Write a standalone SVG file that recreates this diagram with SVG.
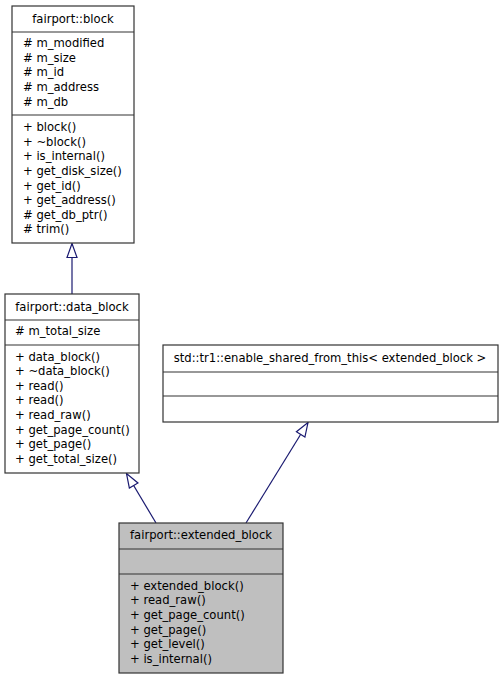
<svg xmlns="http://www.w3.org/2000/svg" width="503" height="680" viewBox="0 0 503 680">
<style>
.box{fill:#ffffff;stroke:#333333;stroke-width:1.2}
.cur{fill:#bfbfbf;stroke:#333333;stroke-width:1.2}
.sep{stroke:#333333;stroke-width:1.2}
text{font-family:"DejaVu Sans",sans-serif;font-size:11.6px;fill:#000000}
.c{text-anchor:middle}
.edge{stroke:#191970;stroke-width:1.2;fill:none}
</style>
<defs>
<marker id="tri" viewBox="0 0 16 12" refX="15" refY="6" markerUnits="userSpaceOnUse" markerWidth="16" markerHeight="12" orient="auto">
<path d="M1,1 L15,6 L1,11 z" fill="#ffffff" stroke="#191970" stroke-width="1.2"/>
</marker>
</defs>
<rect width="503" height="680" fill="#ffffff"/>
<g id="connectors">
<line class="edge" x1="72" y1="294" x2="72" y2="243.5" marker-end="url(#tri)"/>
<line class="edge" x1="156" y1="523" x2="126.5" y2="473.5" marker-end="url(#tri)"/>
<line class="edge" x1="246" y1="523" x2="308" y2="422.5" marker-end="url(#tri)"/>
</g>
<g id="block">
<rect class="box" x="12" y="6" width="122" height="237"/>
<line class="sep" x1="12" y1="32" x2="134" y2="32"/>
<line class="sep" x1="12" y1="115" x2="134" y2="115"/>
<text class="c" x="73" y="23">fairport::block</text>
<text x="23" y="47"># m_modified</text>
<text x="23" y="62"># m_size</text>
<text x="23" y="76"># m_id</text>
<text x="23" y="91"># m_address</text>
<text x="23" y="106"># m_db</text>
<text x="23" y="131">+ block()</text>
<text x="23" y="146">+ ~block()</text>
<text x="23" y="160">+ is_internal()</text>
<text x="23" y="175">+ get_disk_size()</text>
<text x="23" y="190">+ get_id()</text>
<text x="23" y="204">+ get_address()</text>
<text x="23" y="219"># get_db_ptr()</text>
<text x="23" y="233"># trim()</text>
</g>
<g id="data_block">
<rect class="box" x="5" y="294" width="134" height="179"/>
<line class="sep" x1="5" y1="320" x2="139" y2="320"/>
<line class="sep" x1="5" y1="345" x2="139" y2="345"/>
<text class="c" x="72" y="311">fairport::data_block</text>
<text x="15" y="335"># m_total_size</text>
<text x="15" y="361">+ data_block()</text>
<text x="15" y="375">+ ~data_block()</text>
<text x="15" y="390">+ read()</text>
<text x="15" y="404">+ read()</text>
<text x="15" y="419">+ read_raw()</text>
<text x="15" y="434">+ get_page_count()</text>
<text x="15" y="448">+ get_page()</text>
<text x="15" y="463">+ get_total_size()</text>
</g>
<g id="enable_shared_from_this">
<rect class="box" x="163" y="345" width="335" height="77"/>
<line class="sep" x1="163" y1="372" x2="498" y2="372"/>
<line class="sep" x1="163" y1="396" x2="498" y2="396"/>
<text class="c" x="330" y="362">std::tr1::enable_shared_from_this&lt; extended_block &gt;</text>
</g>
<g id="extended_block">
<rect class="cur" x="119" y="523" width="164" height="150"/>
<line class="sep" x1="119" y1="549" x2="283" y2="549"/>
<line class="sep" x1="119" y1="574" x2="283" y2="574"/>
<text class="c" x="201" y="539">fairport::extended_block</text>
<text x="130" y="590">+ extended_block()</text>
<text x="130" y="604">+ read_raw()</text>
<text x="130" y="619">+ get_page_count()</text>
<text x="130" y="634">+ get_page()</text>
<text x="130" y="648">+ get_level()</text>
<text x="130" y="663">+ is_internal()</text>
</g>
</svg>
